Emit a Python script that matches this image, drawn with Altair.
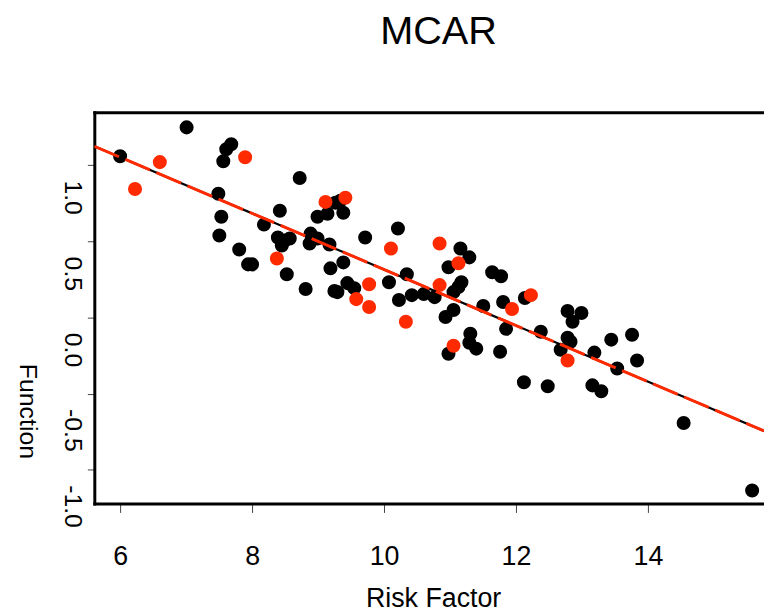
import altair as alt
import pandas as pd

# Black (observed) points
black_x = [6.000, 7.008, 7.489, 7.564, 7.609, 7.684, 7.534, 7.504, 7.805, 7.940,
           8.000, 8.180, 8.421, 8.391, 8.496, 8.571, 8.451, 8.526, 8.722, 8.812,
           9.248, 8.992, 9.143, 9.263, 8.887, 8.992, 8.872, 9.173, 9.188, 9.338,
           9.383, 10.211, 9.714, 9.383, 10.977, 11.158, 11.293, 10.346, 10.075, 9.444,
           9.549, 9.293, 11.128, 11.173, 11.053, 11.639, 11.774, 12.135, 11.805, 10.226,
           10.421, 10.602, 10.767, 11.053, 10.932, 11.504, 11.850, 11.308, 11.293, 11.398,
           10.977, 11.759, 12.120, 12.481, 12.376, 12.782, 12.992, 12.857, 12.782, 12.827,
           12.677, 13.188, 13.444, 13.759, 13.835, 13.534, 13.158, 13.293, 14.541, 15.579]
black_y = [1.058, 1.247, 0.811, 1.025, 1.104, 1.136, 0.661, 0.537, 0.446, 0.348,
           0.348, 0.609, 0.700, 0.524, 0.505, 0.518, 0.472, 0.283, 0.915, 0.186,
           0.173, 0.661, 0.680, 0.752, 0.550, 0.518, 0.485, 0.479, 0.322, 0.765,
           0.687, 0.583, 0.524, 0.361, 0.329, 0.452, 0.394, 0.283, 0.231, 0.225,
           0.192, 0.166, 0.199, 0.231, 0.166, 0.296, 0.270, 0.127, 0.101, 0.114,
           0.146, 0.153, 0.133, 0.049, 0.003, 0.075, -0.075, -0.107, -0.166, -0.205,
           -0.238, -0.225, -0.426, -0.452, -0.094, 0.042, 0.029, -0.029, -0.133, -0.160,
           -0.212, -0.231, -0.146, -0.114, -0.283, -0.335, -0.446, -0.485, -0.693, -1.136]

# Red (missing / imputed) points
red_x = [6.226, 6.602, 7.895, 8.376, 9.113, 9.414, 9.579, 9.774, 9.774, 10.105,
         10.331, 10.842, 10.842, 11.053, 11.128, 11.940, 12.226, 12.782]
red_y = [0.843, 1.019, 1.051, 0.387, 0.758, 0.785, 0.120, 0.068, 0.218, 0.452,
         -0.029, 0.485, 0.212, -0.186, 0.355, 0.055, 0.146, -0.283]

# Fitted lines (read at the plot edges)
line_x = [5.609, 15.759]
black_line_y = [1.123, -0.745]
red_line_y = [1.123, -0.745]

x_ticks = [6, 8, 10, 12, 14]
y_ticks = [-1.0, -0.5, 0.0, 0.5, 1.0]

X_DOMAIN = [5.609, 15.759]
Y_DOMAIN = [-1.221, 1.346]
FONT = "Liberation Sans"
RED = "#ff2a00"

df_black = pd.DataFrame({"x": black_x, "y": black_y})
df_red = pd.DataFrame({"x": red_x, "y": red_y})
df_bline = pd.DataFrame({"x": line_x, "y": black_line_y})
df_rline = pd.DataFrame({"x": line_x, "y": red_line_y})

xscale = alt.Scale(domain=X_DOMAIN, nice=False, zero=False)
yscale = alt.Scale(domain=Y_DOMAIN, nice=False, zero=False)

x_axis_bottom = alt.Axis(
    orient="bottom", values=x_ticks, format="d", grid=False,
    domainColor="black", domainWidth=3, domainCap="square",
    tickColor="#444444", tickWidth=1, tickSize=9,
    labelFont=FONT, labelFontSize=27, labelColor="black",
    labelBaseline="alphabetic", labelPadding=52, labelFlush=False,
    title="Risk Factor", titleFont=FONT, titleFontSize=27, titleFontWeight="normal",
    titleColor="black", titleAlign="center", titleBaseline="alphabetic",
    titleX=341.5, titleY=104,
)
x_axis_top = alt.Axis(
    orient="top", labels=False, ticks=False, grid=False, title=None,
    domainColor="black", domainWidth=3, domainCap="square",
)
y_axis = alt.Axis(
    orient="left", values=y_ticks, grid=False,
    labelExpr="datum.value < 0 ? '-' + format(-datum.value, '.1f') : format(datum.value, '.1f')",
    domainColor="black", domainWidth=3, domainCap="square",
    tickColor="#444444", tickWidth=1, tickSize=7,
    labelFont=FONT, labelFontSize=25, labelColor="black",
    labelAngle=90, labelAlign="left", labelBaseline="alphabetic",
    labelOffset=15, labelPadding=23, labelFlush=False,
    title="Function", titleFont=FONT, titleFontSize=25, titleFontWeight="normal",
    titleColor="black", titleAngle=90, titleAlign="center", titleBaseline="middle",
    titleX=-67.5, titleY=301,
)

black_pts = alt.Chart(df_black).mark_circle(size=200, opacity=1, color="black").encode(
    x=alt.X("x:Q", scale=xscale, axis=x_axis_bottom),
    y=alt.Y("y:Q", scale=yscale, axis=y_axis),
)
red_pts = alt.Chart(df_red).mark_circle(size=200, opacity=1, color=RED).encode(
    x=alt.X("x:Q", scale=xscale, axis=x_axis_top),
    y=alt.Y("y:Q", scale=yscale),
)
black_line = alt.Chart(df_bline).mark_line(color="black", strokeWidth=2.2, clip=True).encode(
    x=alt.X("x:Q", scale=xscale, axis=None),
    y=alt.Y("y:Q", scale=yscale),
)
red_line = alt.Chart(df_rline).mark_line(color=RED, strokeWidth=3, strokeDash=[27, 7], clip=True).encode(
    x=alt.X("x:Q", scale=xscale, axis=None),
    y=alt.Y("y:Q", scale=yscale),
)

chart = (
    alt.layer(black_pts, red_pts, black_line, red_line)
    .resolve_axis(x="independent")
    .properties(
        width=675,
        height=394.3,
        autosize="none",
        padding={"left": 87, "top": 102.7, "right": 0, "bottom": 112},
        title=alt.TitleParams(
            "MCAR", font=FONT, fontSize=40, fontWeight="normal", color="black",
            anchor="middle", dx=9.5, offset=29, baseline="alphabetic",
        ),
    )
    .configure_view(stroke=None)
    .configure(background="white")
)

chart.save("out.html", embed_options={"renderer": "svg", "actions": False})
